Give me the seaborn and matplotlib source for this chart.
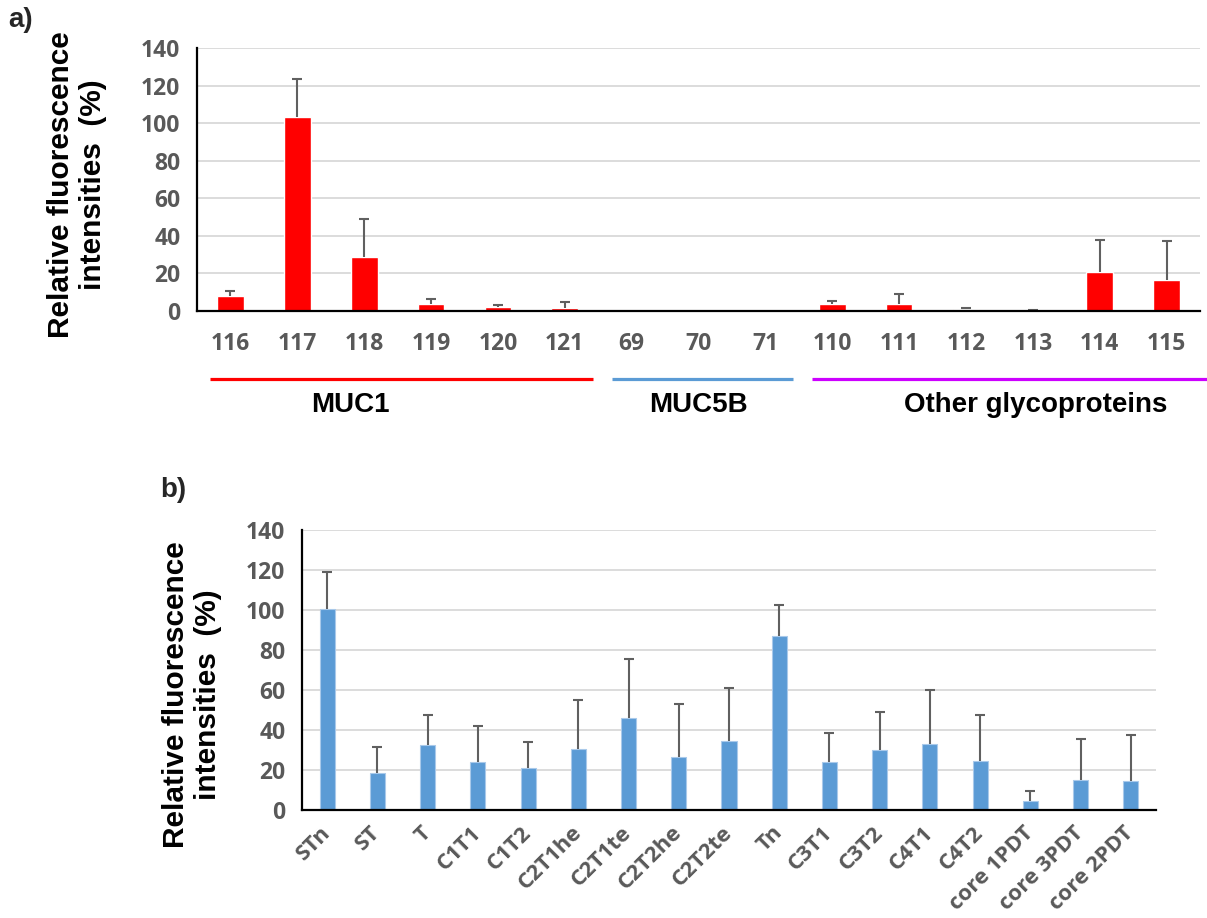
import matplotlib
matplotlib.use("Agg")
import matplotlib.pyplot as plt
import matplotlib.transforms as mtransforms
import numpy as np
import seaborn as sns

# ---------------- data ----------------
peptides = ["116", "117", "118", "119", "120", "121", "69", "70", "71",
            "110", "111", "112", "113", "114", "115"]
peptide_values = [8.2, 103.5, 28.6, 3.9, 2.0, 1.4, 0.4, 0.4, 0.4,
                  3.9, 3.9, 1.3, 0.3, 20.9, 16.3]
peptide_errors = [2.7, 20.0, 20.3, 2.7, 1.4, 3.6, 0.0, 0.0, 0.0,
                  1.5, 5.2, 0.5, 0.3, 17.0, 21.2]

group_names = ["MUC1", "MUC5B", "Other glycoproteins"]
group_first = [0, 6, 9]
group_last = [5, 8, 14]
group_colors = ["#FF0000", "#5B9BD5", "#CC00FF"]

glycans = ["STn", "ST", "T", "C1T1", "C1T2", "C2T1he", "C2T1te", "C2T2he",
           "C2T2te", "Tn", "C3T1", "C3T2", "C4T1", "C4T2", "core 1PDT",
           "core 3PDT", "core 2PDT"]
glycan_values = [100.3, 18.7, 32.5, 24.2, 21.0, 30.3, 46.2, 26.3,
                 34.5, 86.8, 23.8, 30.2, 33.0, 24.5, 4.7, 15.0, 14.7]
glycan_errors = [18.9, 12.6, 15.0, 17.6, 13.0, 24.9, 29.3, 26.7,
                 26.5, 15.5, 14.7, 19.0, 26.8, 23.0, 5.0, 20.3, 22.8]

yticks = [0, 20, 40, 60, 80, 100, 120, 140]

# ---------------- style ----------------
sns.set_theme(style="white")
plt.rcParams["font.family"] = ["Open Sans", "DejaVu Sans"]
plt.rcParams["font.weight"] = "bold"

W, H = 1207, 918
fig = plt.figure(figsize=(W / 100, H / 100), dpi=100)


def px_axes(l, t, r, b):
    return fig.add_axes([l / W, 1 - b / H, (r - l) / W, (b - t) / H])


TICK_GRAY = "#595959"
GRID = "#D9D9D9"
ERR = "#606060"
ARIAL = ["Liberation Sans", "DejaVu Sans"]
TICK_SIZE = 16.5


def style_axes(ax):
    ax.set_ylim(0, 140)
    ax.set_yticks(yticks)
    ax.set_yticklabels([str(v) for v in yticks], fontweight="bold")
    ax.yaxis.grid(True, color=GRID, linewidth=1.3)
    ax.set_axisbelow(True)
    for s in ["top", "right"]:
        ax.spines[s].set_visible(False)
    for s in ["left", "bottom"]:
        ax.spines[s].set_color("black")
        ax.spines[s].set_linewidth(1.6)
    ax.tick_params(axis="y", length=0, pad=12, labelsize=TICK_SIZE,
                   labelcolor=TICK_GRAY)
    ax.set_xlabel("")
    ax.set_ylabel("")


def up_errorbars(ax, x, y, err):
    x = np.asarray(x, dtype=float)
    y = np.asarray(y, dtype=float)
    err = np.asarray(err, dtype=float)
    m = err > 0
    _, caps, _ = ax.errorbar(x[m], y[m], yerr=[np.zeros(m.sum()), err[m]],
                             fmt="none", ecolor=ERR, elinewidth=1.5,
                             capsize=3.5, capthick=1.5)
    # hide the lower caps (plus-only error bars)
    for cap in caps:
        if np.allclose(cap.get_ydata(), y[m]):
            cap.set_visible(False)


# ---------------- panel a ----------------
ax1 = px_axes(197, 48, 1200, 311)
sns.barplot(x=peptides, y=peptide_values, color="#FF0000", saturation=1,
            width=0.4, ax=ax1, errorbar=None)
x1 = np.arange(len(peptides))
up_errorbars(ax1, x1, peptide_values, peptide_errors)
ax1.set_xlim(-0.5, len(peptides) - 0.5)
style_axes(ax1)
ax1.set_xticks(x1)
ax1.set_xticklabels(peptides, fontweight="bold")
ax1.tick_params(axis="x", which="major", length=0, pad=15, labelsize=TICK_SIZE,
                labelcolor=TICK_GRAY)
ax1.set_xticks(np.arange(len(peptides) + 1) - 0.5, minor=True)
ax1.tick_params(axis="x", which="minor", length=5.5, width=1.5,
                color="black", direction="out")

trans = mtransforms.blended_transform_factory(ax1.transData, ax1.transAxes)
label_pos = [1.8, 7.0, 12.04]
for name, f, l, c, lx in zip(group_names, group_first, group_last,
                             group_colors, label_pos):
    x_end = l + 0.42 if l < len(peptides) - 1 else l + 1.0
    ax1.plot([f - 0.3, x_end], [-0.2586, -0.2586], color=c, linewidth=2.3,
             transform=trans, clip_on=False, solid_capstyle="butt")
    ax1.text(lx, -0.359, name, transform=trans, ha="center", va="center",
             fontsize=20, fontweight="bold", color="black", family=ARIAL)

# ---------------- panel b ----------------
ax2 = px_axes(302, 530, 1156, 810)
sns.barplot(x=glycans, y=glycan_values, color="#5B9BD5", saturation=1,
            width=0.3, ax=ax2, errorbar=None, edgecolor="#A9C9EA",
            linewidth=0.8)
x2 = np.arange(len(glycans))
up_errorbars(ax2, x2, glycan_values, glycan_errors)
ax2.set_xlim(-0.5, len(glycans) - 0.5)
style_axes(ax2)
ax2.set_xticks(x2)
ax2.set_xticklabels(glycans, rotation=45, ha="right", va="center",
                    rotation_mode="anchor", fontweight="bold")
ax2.tick_params(axis="x", length=0, pad=14, labelsize=16,
                labelcolor=TICK_GRAY)

# ---------------- labels ----------------
ylab = "Relative fluorescence\nintensities  (%)"
for (cx, cy) in [(77, 185), (192, 695)]:
    fig.text(cx / W, 1 - cy / H, ylab, rotation=90, ha="center", va="center",
             multialignment="center", fontsize=21.5, fontweight="bold",
             color="black", linespacing=1.2, family=ARIAL)

fig.text(8 / W, 1 - 20 / H, "a)", ha="left", va="center", fontsize=20,
         fontweight="bold", family=ARIAL)
fig.text(160 / W, 1 - 490 / H, "b)", ha="left", va="center", fontsize=20,
         fontweight="bold", family=ARIAL)

fig.savefig("out.png", dpi=100)
